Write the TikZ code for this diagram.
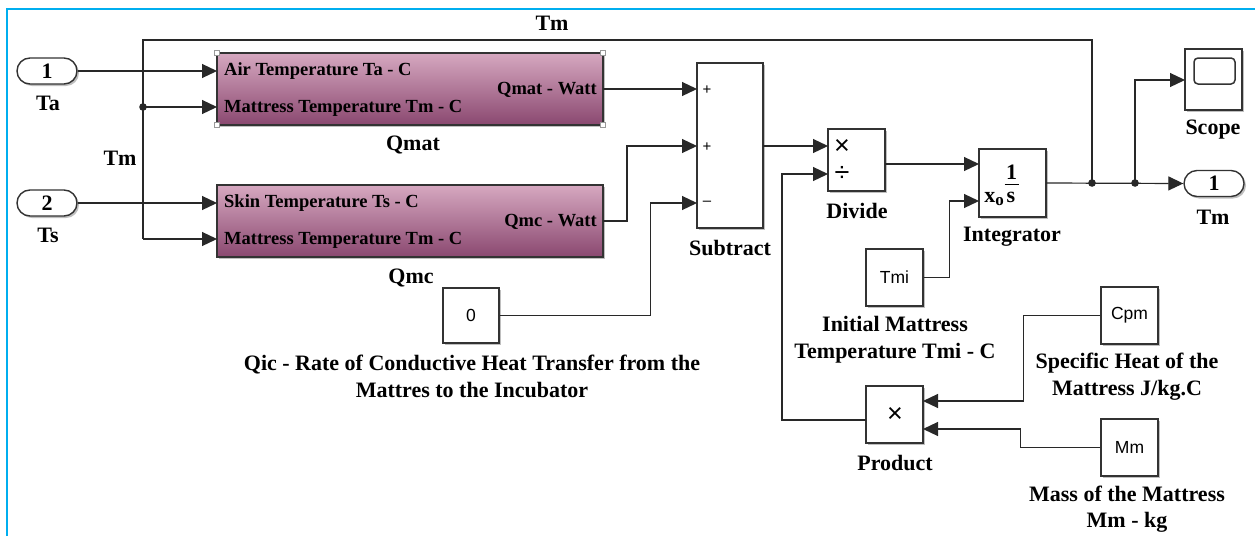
\documentclass[tikz,border=0pt]{standalone}
\usepackage{fontspec}
\setmainfont{Liberation Serif}
\newfontfamily\sansf{Liberation Sans}
\usetikzlibrary{arrows.meta,shadows}
\definecolor{frameblue}{RGB}{0,174,239}
\definecolor{wirec}{RGB}{40,40,40}
\definecolor{pinktop}{RGB}{214,168,192}
\definecolor{pinkmid}{RGB}{200,146,174}
\definecolor{pinkbot}{RGB}{138,72,112}
\begin{document}
\begin{tikzpicture}[x=1pt,y=-1pt,
  wire/.style={draw=wirec, line width=1.2pt},
  arr/.style={wire, -{Triangle[length=15pt,width=14pt]}},
  shad/.style={drop shadow={shadow xshift=2pt,shadow yshift=-2pt,opacity=0.25,fill=black}},
  blk/.style={draw=black!80, line width=1.4pt, fill=white, inner sep=0pt,
    minimum width=57pt, minimum height=57pt, shad},
  sub/.style={draw=black!80, line width=1.4pt, inner sep=0pt,
    top color=pinktop, middle color=pinkmid, bottom color=pinkbot,
    minimum width=386pt, minimum height=72pt, shad},
  pill/.style={blk, rounded corners=13pt, minimum width=60pt, minimum height=26pt,
    font=\fontsize{22}{22}\selectfont\bfseries},
  lbl/.style={font=\fontsize{22}{26.5}\selectfont\bfseries, align=center, inner sep=0pt},
  portlbl/.style={font=\fontsize{18.5}{20}\selectfont\bfseries, inner sep=0pt},
  intext/.style={font=\sansf\fontsize{17.5}{20}\selectfont, inner sep=0pt},
  sym/.style={font=\sansf\fontsize{27}{27}\selectfont, inner sep=0pt},
  sgn/.style={font=\sansf\fontsize{15}{15}\selectfont, inner sep=0pt},
  handle/.style={draw=black!40, fill=white, line width=0.8pt, minimum size=5pt, inner sep=0pt},
  dot/.style={fill=wirec}
]
\useasboundingbox (0,0) rectangle (1255,536);
\fill[white] (0,0) rectangle (1255,536);
\draw[draw=frameblue, line width=2.2pt] (7,536) -- (7,9) -- (1255,9);

% inports
\node[pill] (in1) at (47,71) {1};
\node[lbl] (ta) at (48,103) {Ta};
\node[pill] (in2) at (47,203) {2};
\node[lbl] (ts) at (48,235) {Ts};

% subsystems
\node[sub] (qmat) at (410,89) {};
\node[portlbl, anchor=west] (qa1) at (224,71) {Air Temperature Ta - C};
\node[portlbl, anchor=west] (qa2) at (224,108) {Mattress Temperature Tm - C};
\node[portlbl, anchor=east] (qao) at (597,90) {Qmat - Watt};
\node[lbl] (qmatl) at (413,145) {Qmat};
\foreach \c [count=\i] in {(217,53),(603,53),(217,125),(603,125)}
  \node[handle] (h\i) at \c {};

\node[sub] (qmc) at (410,221) {};
\node[portlbl, anchor=west] (qb1) at (224,203) {Skin Temperature Ts - C};
\node[portlbl, anchor=west] (qb2) at (224,240) {Mattress Temperature Tm - C};
\node[portlbl, anchor=east] (qbo) at (597,222) {Qmc - Watt};
\node[lbl] (qmcl) at (411,278) {Qmc};

% constant 0
\node[blk, minimum width=56pt, minimum height=55pt, intext] (c0) at (471,315.5) {0};
\node[lbl] (c0l) at (472,376.5) {Qic - Rate of Conductive Heat Transfer from the\\Mattres to the Incubator};

% subtract
\node[blk, minimum width=66pt, minimum height=165pt] (sb) at (730,145.5) {};
\node[sgn] (s1) at (707,90) {+};
\node[sgn] (s2) at (707,147) {+};
\node[sgn] (s3) at (707,203) {\textendash};
\node[lbl] (sbl) at (730,248) {Subtract};

% divide
\node[blk, minimum width=57pt, minimum height=62pt] (dv) at (856.5,160) {};
\node[sym] (dx) at (842,147) {×};
\node[sym] (dd) at (842,174) {÷};
\node[lbl] (dvl) at (857,211) {Divide};

% integrator
\node[blk, minimum width=67pt, minimum height=68pt] (ig) at (1012.5,183) {};
\node[font=\fontsize{22}{22}\selectfont\bfseries, inner sep=0pt] (ione) at (1011.5,172) {1};
\draw[line width=1.3pt] (1004.5,184.5) -- (1019,184.5);
\node[font=\fontsize{22}{22}\selectfont\bfseries, inner sep=0pt, anchor=base] (is) at (1011,202) {s};
\node[font=\fontsize{22}{22}\selectfont\bfseries, inner sep=0pt, anchor=base east] (ix) at (1004,202) {x\raisebox{-0.3ex}{\fontsize{17}{17}\selectfont o}};
\node[lbl] (igl) at (1012,237) {Integrator};

% Tmi
\node[blk, intext] (tmi) at (894.5,277.5) {Tmi};
\node[lbl] (tmil) at (895,339.5) {Initial Mattress\\Temperature Tmi - C};

% product
\node[blk] (pr) at (894.5,414.5) {};
\node[sym] (px) at (895,415) {×};
\node[lbl] (prl) at (895,463) {Product};

% Cpm, Mm
\node[blk, intext] (cpm) at (1129.5,315.5) {Cpm};
\node[lbl] (cpml) at (1127,376.5) {Specific Heat of the\\Mattress J/kg.C};
\node[blk, intext] (mm) at (1129.5,447.5) {Mm};
\node[lbl] (mml) at (1127,509) {Mass of the Mattress\\Mm - kg};

% scope and outport
\node[blk, minimum width=57pt, minimum height=61pt] (sc) at (1213.5,79.5) {};
\node[draw=black!80, line width=1.5pt, rounded corners=4pt, minimum width=41pt, minimum height=26pt, inner sep=0pt] (scin) at (1214.5,71) {};
\node[lbl] (scl) at (1213,130) {Scope};
\node[pill] (out1) at (1214,183.5) {1};
\node[lbl] (outl) at (1213,217) {Tm};

% bus labels
\node[lbl] (tmt) at (552,23) {Tm};
\node[lbl] (tml) at (120,158) {Tm};

% port coordinates
\coordinate (qmat-i1) at (217,71);
\coordinate (qmat-i2) at (217,107);
\coordinate (qmat-o) at (603,89);
\coordinate (qmc-i1) at (217,203);
\coordinate (qmc-i2) at (217,239);
\coordinate (qmc-o) at (603,221);
\coordinate (sb-i1) at (697,89);
\coordinate (sb-i2) at (697,146);
\coordinate (sb-i3) at (697,203);
\coordinate (sb-o) at (763,146);
\coordinate (dv-i1) at (828,146);
\coordinate (dv-i2) at (828,174);
\coordinate (dv-o) at (885,164);
\coordinate (ig-i1) at (979,164);
\coordinate (ig-i2) at (979,201);
\coordinate (ig-o) at (1046,183);
\coordinate (pr-i1) at (923,401);
\coordinate (pr-i2) at (923,429);
\coordinate (pr-o) at (866,420);
\coordinate (sc-i) at (1185,80);
\coordinate (tmtop) at (143,40);
\coordinate (tmdot) at (143,107);
\coordinate (tmbot) at (143,239);
\coordinate (j1) at (1092,183);
\coordinate (j2) at (1135,183);

% connectors
\draw[arr] (in1.east) -- (qmat-i1);
\draw[arr] (in2.east) -- (qmc-i1);
\draw[wire] (j1) -- (j1 |- tmtop) -- (tmtop) -- (tmbot);
\draw[arr] (tmdot) -- (qmat-i2);
\draw[arr] (tmbot) -- (qmc-i2);
\draw[arr] (qmat-o) -- (sb-i1);
\draw[arr] (qmc-o) -- ++(24,0) |- (sb-i2);
\draw[arr] (c0.east) -- ++(151,0) |- (sb-i3);
\draw[arr] (sb-o) -- (dv-i1);
\draw[arr] (dv-o) -- (ig-i1);
\draw[arr] (pr-o) -- ++(-84,0) |- (dv-i2);
\draw[arr] (tmi.east) -- ++(26,0) |- (ig-i2);
\draw[arr] (cpm.west) -- ++(-77,0) |- (pr-i1);
\draw[arr] (mm.west) -- ++(-80,0) |- (pr-i2);
\draw[arr] (ig-o) -- (out1.west);
\draw[arr] (j2) |- (sc-i);
\fill[dot] (tmdot) circle (3.8);
\fill[dot] (j1) circle (3.8);
\fill[dot] (j2) circle (3.8);
\end{tikzpicture}
\end{document}
